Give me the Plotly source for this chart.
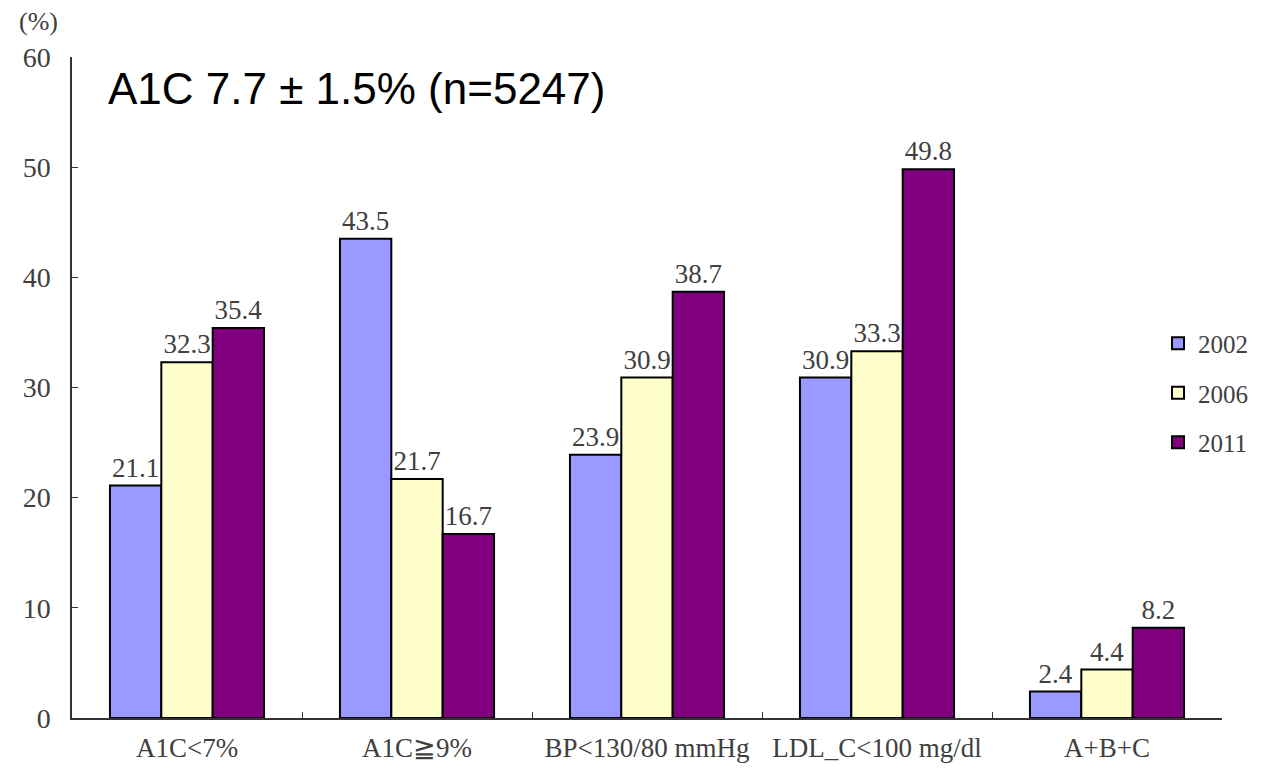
import plotly.graph_objects as go

categories = ["A1C<7%", "A1C≧9%", "BP<130/80 mmHg", "LDL_C<100 mg/dl", "A+B+C"]
years = ["2002", "2006", "2011"]
v2002 = [21.1, 43.5, 23.9, 30.9, 2.4]
v2006 = [32.3, 21.7, 30.9, 33.3, 4.4]
v2011 = [35.4, 16.7, 38.7, 49.8, 8.2]
colors = ["#9999FF", "#FFFFCC", "#800080"]

serif = "Liberation Serif, Times New Roman, serif"
txtcol = "#404040"

L, R, T, B = 72, 54, 57, 51
W, H = 1276, 769
pw, ph = W - L - R, H - T - B

fig = go.Figure()
for name, vals, col in zip(years, [v2002, v2006, v2011], colors):
    fig.add_trace(go.Bar(
        x=categories, y=vals, name=name, legendgroup=name,
        marker=dict(color=col, line=dict(color="black", width=2)),
        text=[f"{v:.1f}" for v in vals], textposition="outside",
        textfont=dict(family=serif, size=27, color=txtcol),
        cliponaxis=False,
    ))

fig.update_layout(
    width=W, height=H,
    margin=dict(l=L, r=R, t=T, b=B, autoexpand=False),
    paper_bgcolor="white", plot_bgcolor="white",
    barmode="group", bargap=0.33, bargroupgap=0,
    showlegend=True,
    legend=dict(x=(1158 - L) / pw, y=1 - (393 - T) / ph, xref="paper", yref="paper",
                xanchor="left", yanchor="middle",
                font=dict(family=serif, size=25, color=txtcol),
                tracegroupgap=14, bgcolor="rgba(0,0,0,0)", itemwidth=30),
    xaxis=dict(showline=True, linecolor="#333", linewidth=1.5, ticks="inside",
               tickson="boundaries", ticklen=6, tickcolor="#333",
               tickfont=dict(family=serif, size=27, color=txtcol), showgrid=False,
               ticklabelstandoff=5),
    yaxis=dict(range=[0, 60], dtick=10, showline=True, linecolor="#333", linewidth=1.5,
               ticks="inside", ticklen=6, tickcolor="#333", showgrid=False, zeroline=False,
               tickfont=dict(family=serif, size=28, color=txtcol), ticklabelstandoff=14),
    annotations=[
        dict(text="(%)", x=(38 - L) / pw, y=1 + (T - 22) / ph, xref="paper", yref="paper",
             xanchor="center", yanchor="middle",
             showarrow=False, font=dict(family=serif, size=26, color=txtcol)),
        dict(text="A1C 7.7 ± 1.5% (n=5247)", x=(106 - L) / pw, y=1 - (62 - T) / ph,
             xref="paper", yref="paper", xanchor="left", yanchor="top", showarrow=False,
             font=dict(family="Liberation Sans, Arial, sans-serif", size=44, color="black")),
    ],
)

fig.write_html("out.html")
